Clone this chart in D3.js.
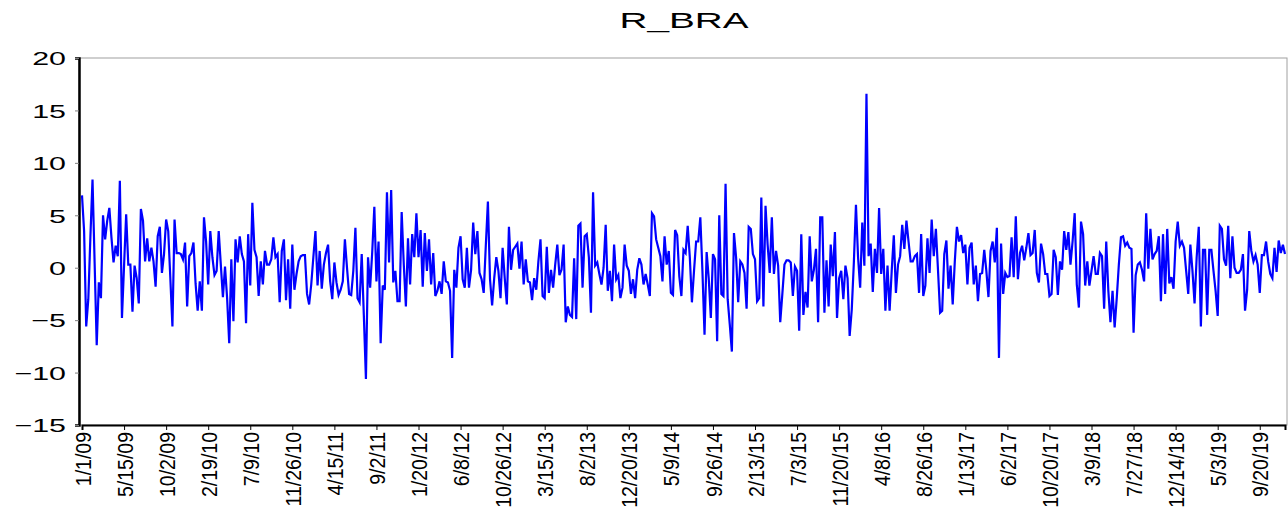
<!DOCTYPE html>
<html>
<head>
<meta charset="utf-8">
<script src="https://cdn.jsdelivr.net/npm/d3@7"></script>
<style>
  html, body { margin: 0; padding: 0; background: #fff; }
  svg { display: block; }
  text { font-family: "Liberation Sans", Arial, sans-serif; fill: #000; }
</style>
</head>
<body>
<svg id="chart" width="1288" height="511"></svg>
<script>
// Weekly returns, R_BRA (in percent)
const seriesName = "R_BRA";

const returns = [
  6.9, 3.5, -5.6, -3.0, 3.0, 8.4, 0.5, -7.4, -1.4, -2.9,
  5.0, 2.7, 4.5, 5.7, 2.9, 0.5, 2.1, 1.1, 8.3, -4.8,
  0.2, 5.1, 0.3, 0.3, -4.2, 0.2, -1.0, -3.4, 5.6, 4.5,
  0.6, 2.8, 0.6, 1.9, 0.6, -1.8, 3.0, 3.9, -0.5, 1.3,
  4.6, 3.5, -1.0, -5.6, 4.6, 1.4, 1.4, 1.3, 0.8, 2.4,
  -3.7, 1.1, 1.4, 2.4, -1.5, -4.1, -1.3, -4.1, 4.8, 2.5,
  -1.6, 3.5, 1.0, -0.7, -0.3, 3.5, 0.3, -2.8, 0.1, -2.9,
  -7.2, 0.8, -5.1, 2.7, 0.5, 3.0, 1.3, 0.6, -5.3, 3.2,
  -1.7, 6.2, 1.7, 1.0, -2.7, 0.6, -1.6, 1.6, 0.3, 0.3,
  0.8, 2.9, 1.0, 1.3, -3.3, 1.6, 2.7, -3.1, 0.8, -3.9,
  2.2, -2.1, -0.6, 0.6, 1.1, 1.2, 1.2, -2.5, -3.5, -1.6,
  1.0, 3.5, -1.7, 1.6, -2.0, 0.3, 1.4, 2.2, -1.3, -3.0,
  0.5, -1.4, -2.6, -2.1, -1.3, 2.7, 0.0, -2.5, -2.6, -0.3,
  3.8, -2.9, -3.3, 1.3, -4.5, -10.6, 1.0, -1.9, 1.5, 5.8,
  -1.3, 2.5, -7.2, -1.7, -2.1, 7.2, 0.5, 7.4, -1.4, -0.3,
  -3.2, -3.2, 5.3, 0.3, -3.7, 2.8, -1.6, 3.2, 1.0, 5.2,
  1.0, 3.6, -1.8, 3.3, -0.3, 2.7, -1.6, 1.4, -2.7, -2.2,
  -1.3, -2.5, 0.6, -1.3, -1.4, -2.2, -8.6, -0.2, -1.9, 1.9,
  3.0, -1.1, -1.9, 1.9, -1.9, -0.2, 4.3, 1.3, 3.5, -0.5,
  -1.1, -2.4, 2.1, 6.3, -1.1, -3.6, -1.0, 1.0, -0.3, -2.9,
  1.9, -1.0, -3.5, 3.9, -0.2, 1.7, 2.0, 2.3, -0.1, 2.5,
  -1.6, 0.8, -1.3, -1.4, -3.1, -1.0, -2.1, 0.6, 2.7, -2.7,
  -2.9, 2.0, -2.4, -0.2, -1.9, 0.3, 2.2, -0.7, -0.2, 2.2,
  -5.2, -3.7, -4.5, -4.7, 0.9, -4.9, 4.0, 4.2, -1.9, 3.0,
  3.2, 1.0, -4.3, 7.2, 0.2, 0.5, -0.6, -1.6, 0.0, 4.1,
  -2.2, -0.3, -3.2, 2.2, -1.1, -0.7, -2.9, -1.9, 2.2, 0.2,
  -0.3, -2.5, -1.1, -2.9, -0.2, 0.9, 0.3, -1.6, -0.6, -1.6,
  -2.7, 5.2, 4.9, 2.7, 1.9, 1.1, -1.3, 3.0, 0.3, 1.6,
  -2.4, -2.6, 3.6, 3.1, -0.8, -2.7, 1.7, 1.4, 4.0, 1.0,
  -3.3, -0.3, 2.5, 2.5, 4.8, -0.3, -6.4, 1.5, -1.0, -4.8,
  1.3, 0.8, -7.0, 5.0, -2.5, -2.7, 8.0, -3.0, -5.4, -8.0,
  3.3, 1.0, -3.3, 0.6, 0.3, -0.5, -3.9, 3.9, 3.7, 1.3,
  0.8, -3.2, -2.9, 6.7, -3.7, 5.9, 2.2, -0.5, 4.8, -0.6,
  1.6, 0.2, -5.2, -2.5, 0.3, 0.7, 0.7, 0.5, -2.7, 0.1,
  -0.3, -6.0, 3.2, -4.5, -2.3, -3.8, 3.0, -1.3, -0.2, 1.8,
  -5.2, 4.8, 4.8, -4.3, 0.7, -3.7, 2.2, -0.8, 3.4, -4.8,
  -1.0, -0.3, -3.0, 0.2, -1.0, -6.5, -4.0, 0.5, 6.0, 1.0,
  -1.9, 4.3, 0.2, 16.6, 1.1, 2.3, -2.3, 1.8, -0.5, 5.7,
  -0.6, 1.8, -4.1, 0.2, -4.1, -0.3, 3.1, -2.4, 0.3, 1.1,
  4.1, 1.8, 4.5, 2.5, 0.6, 0.6, 1.1, 1.3, -2.4, 3.2,
  -2.7, -1.7, 2.8, -0.5, 4.6, 1.1, 3.7, -0.2, -4.3, -4.1,
  1.3, 2.6, -2.0, 0.2, -3.5, 0.6, 3.9, 2.5, 3.1, 1.4,
  2.2, -1.6, 1.9, 2.4, -1.6, 0.2, -3.2, -0.6, -0.5, 1.7,
  -0.3, -2.8, 1.6, 2.5, 0.5, 3.8, -8.6, 2.3, -2.5, -0.5,
  -0.9, -0.8, 2.9, -0.9, 4.9, -1.1, 1.4, 2.1, 0.7, 1.9,
  3.3, 1.2, 1.4, 3.6, -0.5, -1.4, 2.3, 1.3, -0.6, -0.6,
  -2.7, -2.5, 1.7, 1.0, -2.6, 0.6, -0.2, 3.5, 1.7, 3.4,
  0.3, 2.5, 5.2, -1.6, -3.8, 4.4, 3.2, -1.7, 0.6, -1.7,
  -0.3, 1.1, -0.6, -0.6, 1.4, 1.1, -3.9, 2.5, -2.2, -5.2,
  -2.2, -5.7, -2.9, 0.3, 2.9, 3.0, 2.1, 2.4, 1.9, 1.8,
  -6.2, -0.7, 0.3, 0.5, -0.2, -1.3, 5.2, -0.1, 3.7, 0.8,
  1.3, 1.6, 3.0, -3.2, 3.2, -2.5, 3.7, -1.5, -0.9, -2.0,
  2.5, 4.4, 2.1, 2.5, 1.9, -0.3, -2.5, 2.2, -0.3, -3.4,
  1.0, 3.9, -5.6, 1.7, 1.7, -4.5, 1.7, 1.7, -0.3, -2.2,
  -4.6, 4.0, 3.7, 0.8, 0.2, 4.0, -1.0, 3.0, 0.0, -0.5,
  -0.5, -0.2, 1.3, -4.1, -2.1, 3.5, 1.6, 0.6, 1.2, 0.3,
  -2.4, 1.2, 1.2, 2.5, 0.6, -0.6, -1.0, 1.9, -0.4, 2.6,
  1.4, 2.2, 1.3
];

// Date labels, one every 20 observations
const dateLabels = [
  "1/1/09", "5/15/09", "10/2/09", "2/19/10", "7/9/10", "11/26/10",
  "4/15/11", "9/2/11", "1/20/12", "6/8/12", "10/26/12", "3/15/13",
  "8/2/13", "12/20/13", "5/9/14", "9/26/14", "2/13/15", "7/3/15",
  "11/20/15", "4/8/16", "8/26/16", "1/13/17", "6/2/17", "10/20/17",
  "3/9/18", "7/27/18", "12/14/18", "5/3/19", "9/20/19"
];
const labelStep = 20;

const yTicks = [20, 15, 10, 5, 0, -5, -10, -15];

const svg = d3.select("#chart");
const frame = { left: 79, right: 1287, top: 58, bottom: 425 };

const x = d3.scaleLinear()
  .domain([0, returns.length - 1])
  .range([82, 1285]);

const y = d3.scaleLinear()
  .domain([-15, 20])
  .range([frame.bottom, frame.top]);

// plot frame
svg.append("rect")
  .attr("x", frame.left)
  .attr("y", frame.top)
  .attr("width", frame.right - frame.left)
  .attr("height", frame.bottom - frame.top)
  .attr("fill", "none")
  .attr("stroke", "#a0a0a0")
  .attr("stroke-width", 1);

// y axis (wide lettering)
const yAxis = d3.axisLeft(y)
  .tickValues(yTicks)
  .tickSize(4)
  .tickFormat(d3.format("d"));

const gy = svg.append("g")
  .attr("transform", `translate(${frame.left},0)`)
  .call(yAxis);
gy.select(".domain").attr("stroke", "#000").attr("stroke-width", 2.5);
gy.selectAll(".tick line").attr("stroke", "#808080");
gy.selectAll(".tick text")
  .style("font-size", "19px")
  .attr("x", 0)
  .attr("dy", "0.36em")
  .attr("transform", "translate(-13,0) scale(1.6,1)");

// x axis: tick at every labelled observation
const labelIdx = dateLabels.map((_, k) => k * labelStep);
const xAxis = d3.axisBottom(x)
  .tickValues(labelIdx)
  .tickSize(5)
  .tickFormat((d, k) => dateLabels[k]);

const gx = svg.append("g")
  .attr("transform", `translate(0,${frame.bottom})`)
  .call(xAxis);
gx.select(".domain").attr("stroke", "#000").attr("stroke-width", 2);
gx.selectAll(".tick line").attr("stroke", "#000");
gx.selectAll(".tick text")
  .style("font-size", "19.5px")
  .attr("text-anchor", "end")
  .attr("dy", "0.36em")
  .attr("transform", "translate(0,7) scale(1.15,1) rotate(-90)")
  .attr("x", 0)
  .attr("y", 0);

// the series
const line = d3.line()
  .x((d, i) => x(i))
  .y(d => y(d));

svg.append("path")
  .datum(returns)
  .attr("d", line)
  .attr("fill", "none")
  .attr("stroke", "#0000ff")
  .attr("stroke-width", 2.2)
  .attr("stroke-linejoin", "miter");

// title (wide lettering)
svg.append("text")
  .attr("transform", "translate(684,28) scale(1.8,1)")
  .attr("text-anchor", "middle")
  .style("font-size", "21.5px")
  .text(seriesName);
</script>
</body>
</html>
